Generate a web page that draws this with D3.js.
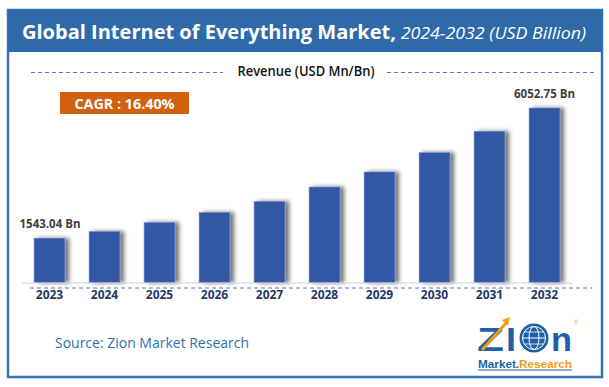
<!DOCTYPE html>
<html>
<head>
<meta charset="utf-8">
<script src="https://cdn.jsdelivr.net/npm/d3@7"></script>
<style>
  html, body { margin: 0; padding: 0; background: #ffffff; }
  svg { display: block; }
</style>
</head>
<body>
<script>
// ---- data ----
const years = ["2023","2024","2025","2026","2027","2028","2029","2030","2031","2032"];
const revenue = [1543.04, 1772, 2085, 2432, 2815, 3315, 3836, 4507, 5247, 6052.75];
const valueLabels = {"2023": "1543.04 Bn", "2032": "6052.75 Bn"};
const titleMain = "Global Internet of Everything Market,";
const titleSub = " 2024-2032 (USD Billion)";
const legendText = "Revenue (USD Mn/Bn)";
const cagrText = "CAGR : 16.40%";
const sourceText = "Source: Zion Market Research";

const W = 609, H = 387;
const svg = d3.select("body").append("svg").attr("width", W).attr("height", H);

const defs = svg.append("defs");
const f = defs.append("filter").attr("id", "shadow").attr("x", "-20%").attr("y", "-10%").attr("width", "160%").attr("height", "120%");
f.append("feDropShadow").attr("dx", 4).attr("dy", 0).attr("stdDeviation", 2.2)
  .attr("flood-color", "#000").attr("flood-opacity", 0.55);

// frame
svg.append("rect").attr("x", 8).attr("y", 10).attr("width", 594).attr("height", 367)
  .attr("fill", "#fff").attr("stroke", "#2e75b6").attr("stroke-width", 2.5);
svg.append("rect").attr("x", 8).attr("y", 10).attr("width", 594).attr("height", 42)
  .attr("fill", "#2e6aa8");

// title
const t = svg.append("text").attr("x", 22).attr("y", 39).attr("fill", "#fff")
  .style("font-family", "'Open Sans', sans-serif");
t.append("tspan").text(titleMain).attr("font-weight", "bold").attr("font-size", 19.5)
  .attr("textLength", 374).attr("lengthAdjust", "spacingAndGlyphs");
t.append("tspan").text(titleSub).attr("font-style", "italic").attr("font-size", 17)
  .attr("textLength", 190).attr("lengthAdjust", "spacingAndGlyphs");

// legend
svg.append("text").attr("x", 306).attr("y", 76).attr("text-anchor", "middle")
  .attr("font-size", 13.5).attr("font-weight", 600).attr("fill", "#111").style("font-family", "'Open Sans', sans-serif")
  .attr("textLength", 137).attr("lengthAdjust", "spacingAndGlyphs")
  .text(legendText);
[[31, 223], [387, 596]].forEach(([a, b]) => {
  svg.append("line").attr("x1", a).attr("x2", b).attr("y1", 72.5).attr("y2", 72.5)
    .attr("stroke", "#4a7cc7").attr("stroke-width", 1).attr("stroke-dasharray", "4,3");
});

// CAGR box
svg.append("rect").attr("x", 60).attr("y", 92).attr("width", 129).attr("height", 22).attr("fill", "#d2610f");
svg.append("text").attr("x", 124.5).attr("y", 108.5).attr("text-anchor", "middle")
  .attr("fill", "#fff").attr("font-weight", "bold").attr("font-size", 14)
  .style("font-family", "'Open Sans', sans-serif")
  .attr("textLength", 100).attr("lengthAdjust", "spacingAndGlyphs")
  .text(cagrText);

// scales
const x = d3.scaleBand().domain(years).range([22, 572]).paddingInner(0.44).paddingOuter(0.22);
const y = d3.scaleLinear().domain([0, 6052.75]).range([282.7, 108]);

// bars
svg.append("g").attr("filter", "url(#shadow)").selectAll("rect").data(years).join("rect")
  .attr("x", d => x(d)).attr("width", x.bandwidth())
  .attr("y", (d, i) => y(revenue[i])).attr("height", (d, i) => y(0) - y(revenue[i]))
  .attr("fill", "#3158a5").attr("stroke", "#6f8fd0").attr("stroke-width", 0.6);

// axis baseline
svg.append("line").attr("x1", 22).attr("x2", 572).attr("y1", 283).attr("y2", 283)
  .attr("stroke", "#d0d0d0").attr("stroke-width", 1);
// dashed line under axis
svg.append("line").attr("x1", 30).attr("x2", 592).attr("y1", 288).attr("y2", 288)
  .attr("stroke", "#4a7cc7").attr("stroke-width", 1).attr("stroke-dasharray", "4,3");

// x axis labels
const xAxis = d3.axisBottom(x).tickSize(0).tickPadding(0);
const gx = svg.append("g").attr("transform", "translate(0,289)").call(xAxis);
gx.select(".domain").remove();
gx.selectAll("text").attr("font-size", 12).attr("font-weight", "bold").attr("fill", "#1f3864")
  .style("font-family", "'Open Sans', sans-serif").attr("dy", "0.85em");

// value labels
years.forEach((d, i) => {
  if (valueLabels[d]) {
    svg.append("text").attr("x", i === 0 ? 50 : x(d) + x.bandwidth() / 2).attr("y", y(revenue[i]) - 10)
      .attr("text-anchor", "middle").attr("font-size", 12).attr("font-weight", "bold")
      .attr("fill", "#404040").style("font-family", "'Open Sans', sans-serif")
      .attr("textLength", 61).attr("lengthAdjust", "spacingAndGlyphs")
      .text(valueLabels[d]);
  }
});

// source
svg.append("text").attr("x", 55).attr("y", 348).attr("font-size", 14.5).attr("fill", "#2f6fad")
  .style("font-family", "'Open Sans', sans-serif")
  .attr("textLength", 194).attr("lengthAdjust", "spacingAndGlyphs")
  .text(sourceText);

// logo
const lg = svg.append("g");
const logoFont = "'Liberation Sans', sans-serif";
lg.append("text").attr("x", 477).attr("y", 351).attr("font-size", 34).attr("font-weight", "bold")
  .attr("fill", "#1f5fa8").style("font-family", logoFont)
  .attr("textLength", 27).attr("lengthAdjust", "spacingAndGlyphs").text("Z");
lg.append("text").attr("x", 506).attr("y", 351).attr("font-size", 34).attr("font-weight", "bold")
  .attr("fill", "#1f5fa8").style("font-family", logoFont)
  .attr("textLength", 10).attr("lengthAdjust", "spacingAndGlyphs").text("I");
lg.append("circle").attr("cx", 534).attr("cy", 338).attr("r", 14.5).attr("fill", "#1f5fa8");
lg.append("circle").attr("cx", 534).attr("cy", 338).attr("r", 11.5).attr("fill", "none").attr("stroke", "#fff").attr("stroke-width", 1);
lg.append("ellipse").attr("cx", 534).attr("cy", 338).attr("rx", 5).attr("ry", 11.5).attr("fill", "none").attr("stroke", "#fff").attr("stroke-width", 1);
lg.append("line").attr("x1", 522.5).attr("x2", 545.5).attr("y1", 338).attr("y2", 338).attr("stroke", "#fff");
lg.append("line").attr("x1", 524).attr("x2", 544).attr("y1", 332).attr("y2", 332).attr("stroke", "#fff").attr("stroke-width", 0.8);
lg.append("line").attr("x1", 524).attr("x2", 544).attr("y1", 344).attr("y2", 344).attr("stroke", "#fff").attr("stroke-width", 0.8);
lg.append("text").attr("x", 551).attr("y", 351).attr("font-size", 34).attr("font-weight", "bold")
  .attr("fill", "#1f5fa8").style("font-family", logoFont)
  .attr("textLength", 21).attr("lengthAdjust", "spacingAndGlyphs").text("n");
lg.append("text").attr("x", 574).attr("y", 324).attr("font-size", 6).attr("fill", "#f39c12")
  .style("font-family", logoFont).text("®");
lg.append("path").attr("d", "M482,350 L507,322").attr("stroke", "#f39c12").attr("stroke-width", 3).attr("fill", "none");
lg.append("path").attr("d", "M502,320 L510,317 L508,326 Z").attr("fill", "#f39c12");
const mr = lg.append("text").attr("x", 478).attr("y", 368).attr("font-size", 10.5).attr("font-weight", "bold")
  .style("font-family", logoFont).attr("textLength", 94).attr("lengthAdjust", "spacingAndGlyphs");
mr.append("tspan").attr("fill", "#1f5fa8").text("Market.");
mr.append("tspan").attr("fill", "#f39c12").text("Research");
lg.append("line").attr("x1", 478).attr("x2", 572).attr("y1", 370).attr("y2", 370).attr("stroke", "#1f5fa8").attr("stroke-width", 1);
</script>
</body>
</html>
